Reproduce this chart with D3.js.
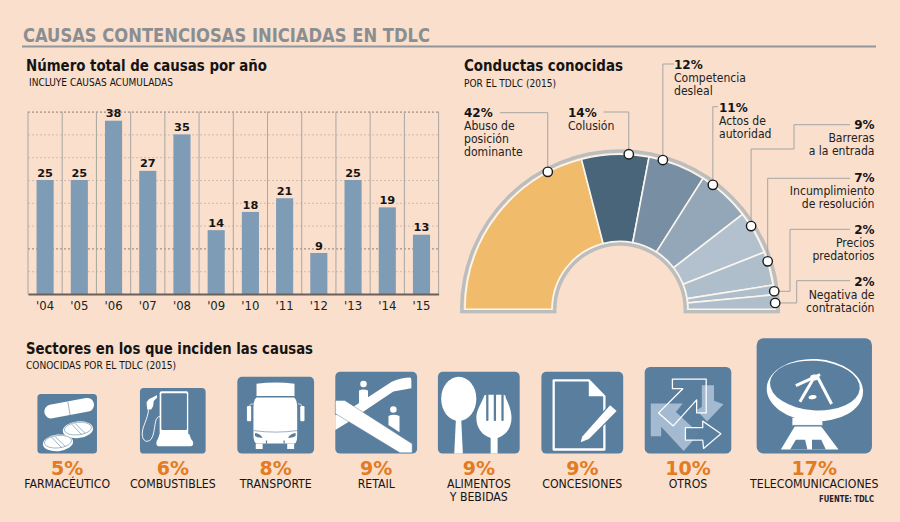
<!DOCTYPE html>
<html><head><meta charset="utf-8">
<script src="https://cdn.jsdelivr.net/npm/d3@7/dist/d3.min.js"></script>
<style>html,body{margin:0;padding:0;background:#f9dfcc;overflow:hidden}svg{display:block}</style>
</head><body><svg id="c" width="900" height="522"></svg>
<script>
// ---------- data ----------
const years = ["'04","'05","'06","'07","'08","'09","'10","'11","'12","'13","'14","'15"];
const causes = [25,25,38,27,35,14,18,21,9,25,19,13];
const gridTicks = [0,5,10,15,20,25,30,35,40];
const conductLabels = [["Abuso de","posición","dominante"],["Colusión"],["Competencia","desleal"],["Actos de","autoridad"],["Barreras","a la entrada"],["Incumplimiento","de resolución"],["Precios","predatorios"],["Negativa de","contratación"]];
const conductPct = [42,14,12,11,9,7,2,2];
const conductDrawn = [42,14,12,11,9,7,2,3];        // slice sizes as read from the arc
const conductMarker = [34.6,51.8,58.9,70.4,82,90,96.3,98.7]; // marker position along the arc, 0-100
const sectorNames = [["FARMACÉUTICO"],["COMBUSTIBLES"],["TRANSPORTE"],["RETAIL"],["ALIMENTOS","Y BEBIDAS"],["CONCESIONES"],["OTROS"],["TELECOMUNICACIONES"]];
const sectorPct = [5,6,8,9,9,9,10,17];

// ---------- layout & style ----------
const svg = d3.select("#c");
const INK="#141414", BG="#f9dfcc", BLUE="#5a7f9e", ORANGE="#e27b22";
const COND="'DejaVu Sans Condensed','Noto Sans',sans-serif", WIDE="'DejaVu Sans',sans-serif";
function T(parent,s,x,y,o={}){
  const t=parent.append("text").attr("x",x).attr("y",y).text(s)
    .attr("font-family",o.f||COND).attr("font-size",o.s||12).attr("font-weight",o.w||"normal")
    .attr("fill",o.c||INK).attr("text-anchor",o.a||"start");
  if(o.l) t.attr("textLength",o.l).attr("lengthAdjust","spacingAndGlyphs");
  return t;
}
svg.append("rect").attr("width",900).attr("height",522).attr("fill",BG);
T(svg,"CAUSAS CONTENCIOSAS INICIADAS EN TDLC",23,41.5,{s:20,w:"bold",c:"#8b8e91",l:407});
svg.append("line").attr("x1",22).attr("x2",876).attr("y1",46.5).attr("y2",46.5).attr("stroke","#92979b").attr("stroke-width",1.8);

// ---------- bars ----------
T(svg,"Número total de causas por año",26,70.5,{s:16,w:"bold",l:241});
T(svg,"INCLUYE CAUSAS ACUMULADAS",29,86,{s:10.5,l:144});
const x=d3.scaleBand().domain(years).range([28,438.6]).padding(0);
const y=d3.scaleLinear().domain([0,40]).range([294,111.6]);
const gridG=svg.append("g").attr("transform","translate(28,0)").call(d3.axisLeft(y).tickValues(gridTicks).tickSize(-410.6).tickFormat(""));
gridG.select(".domain").remove();
gridG.selectAll(".tick line").attr("stroke",d=>(d===10||d===40)?"#8a7f77":"#d0bcae").attr("stroke-dasharray","2,2").attr("stroke-width",1);
svg.append("g").selectAll("line").data(d3.range(years.length+1)).join("line")
  .attr("x1",i=>28+i*x.step()).attr("x2",i=>28+i*x.step()).attr("y1",111.6).attr("y2",294)
  .attr("stroke","#aaa6a2").attr("stroke-width",1);
svg.append("g").selectAll("rect").data(causes).join("rect")
  .attr("x",(d,i)=>x(years[i])+x.bandwidth()/4).attr("width",x.bandwidth()/2)
  .attr("y",d=>y(d)).attr("height",d=>y(0)-y(d)).attr("fill","#7f9cb7");
svg.append("g").selectAll("text").data(causes).join("text")
  .attr("x",(d,i)=>x(years[i])+x.bandwidth()/2).attr("y",d=>y(d)-3.4).text(d=>d)
  .attr("text-anchor","middle").attr("font-family",WIDE).attr("font-weight","bold").attr("font-size",11.3).attr("fill",INK);
const xAxis=svg.append("g").attr("transform","translate(0,294)").call(d3.axisBottom(x).tickSize(0).tickPadding(7));
xAxis.select(".domain").attr("stroke","#6a605a").attr("stroke-width",2);
xAxis.selectAll("text").attr("font-family",COND).attr("font-size",13).attr("fill","#222");

// ---------- semicircle ----------
T(svg,"Conductas conocidas",464,70.5,{s:16,w:"bold",l:159});
T(svg,"POR EL TDLC (2015)",464,86.5,{s:10.5,l:92});
const cx=620, cy=309.3, R0=68, R1=155;
const ring=svg.append("g").attr("transform",`translate(${cx},${cy})`);
const half=Math.PI/2;
const greyArc=d3.arc().startAngle(-half).endAngle(half);
ring.append("path").attr("d",greyArc({innerRadius:156.5,outerRadius:160})).attr("fill","#bcbdbd");
ring.append("path").attr("d",greyArc({innerRadius:63.5,outerRadius:67})).attr("fill","#bcbdbd");
ring.append("rect").attr("x",-160).attr("y",0).attr("width",96.5).attr("height",4).attr("fill","#bcbdbd");
ring.append("rect").attr("x",63.5).attr("y",0).attr("width",96.5).attr("height",4).attr("fill","#bcbdbd");
const pie=d3.pie().sort(null).startAngle(-half).endAngle(half);
const arc=d3.arc().innerRadius(R0).outerRadius(R1);
const sliceCol=["#f0bb6b","#486579","#788ea3","#93a7b9","#b3c1ce","#aebecb","#aebecb","#aebecb"];
ring.selectAll("path.s").data(pie(conductDrawn)).join("path").attr("class","s").attr("d",arc)
  .attr("fill",(d,i)=>sliceCol[i]).attr("stroke","#fbf5ef").attr("stroke-width",1.6);
const ang=d3.scaleLinear().domain([0,100]).range([-half,half]);
const dots=conductMarker.map(m=>[cx+155.3*Math.sin(ang(m)),cy-155.3*Math.cos(ang(m))]);
// leader routes, each ending at the text it serves
const rx=850;
const routes=[
 d=>[d,[d[0],112.7],[500,112.7]],
 d=>[d,[d[0],112],[603.5,112]],
 d=>[d,[d[0],64],[674,64]],
 d=>[d,[d[0],106.7],[718,106.7]],
 d=>[d,[d[0],149],[794,149],[794,124.7],[rx,124.7]],
 d=>[d,[d[0],178.3],[rx,178.3]],
 d=>[d,[790,d[1]],[790,229.3],[rx,229.3]],
 d=>[d,[796.7,d[1]],[796.7,280.7],[rx,280.7]]
];
const ln=d3.line();
svg.append("g").selectAll("path").data(routes).join("path").attr("d",(r,i)=>ln(r(dots[i])))
  .attr("fill","none").attr("stroke","#a5a5a3").attr("stroke-width",1);
svg.append("g").selectAll("circle").data(dots).join("circle").attr("cx",d=>d[0]).attr("cy",d=>d[1]).attr("r",4.7)
  .attr("fill","#fff").attr("stroke","#1a1a1a").attr("stroke-width",1.4);
const labelPos=[[464,116.7,"start"],[568,116.7,"start"],[674,69.3,"start"],[719,112,"start"],[874.5,128.7,"end"],[874.5,181.7,"end"],[874.5,234,"end"],[874.5,285.7,"end"]];
const lg=svg.append("g");
conductPct.forEach((p,i)=>{
  const [lx,ly,a]=labelPos[i];
  T(lg,p+"%",lx,ly,{f:WIDE,w:"bold",s:12,a});
  conductLabels[i].forEach((s,j)=>T(lg,s,lx,ly+13*(j+1),{s:12.1,a,c:"#222"}));
});

// ---------- sector icons ----------
T(svg,"Sectores en los que inciden las causas",26,354,{s:16,w:"bold",l:287});
T(svg,"CONOCIDAS POR EL TDLC (2015)",26,369.3,{s:10.5,l:150});
const side=d3.scalePow().exponent(0.54).domain([0,17]).range([0,115.3]);
const centers=[67.2,172.8,275.7,376.2,478.8,582.3,688,814.3];
const base=453.6;
const W="#fff";
function P(g,d,o={}){return g.append("path").attr("d",d).attr("fill",o.fill===undefined?W:o.fill).attr("stroke",o.stroke||"none").attr("stroke-width",o.sw||0).attr("stroke-linejoin","round").attr("stroke-linecap",o.cap||"butt").attr("opacity",o.op||1);}
function E(g,cx,cy,rx,ry,rot,o={}){return g.append("ellipse").attr("cx",cx).attr("cy",cy).attr("rx",rx).attr("ry",ry).attr("transform",`rotate(${rot} ${cx} ${cy})`).attr("fill",o.fill||W).attr("stroke",o.stroke||"none").attr("stroke-width",o.sw||0);}
const icons=[
 g=>{ // pills
  P(g,"M23 29.4L83.6 18",{fill:"none",stroke:W,sw:23,cap:"round"});
  P(g,"M51 12.5L55.5 39",{fill:"none",stroke:BLUE,sw:1});
  [[68,60],[34.5,82]].forEach(([a,b])=>{
   E(g,a,b,25.5,14,-6);
   E(g,a,b-2,23,10.5,-6,{fill:"none",stroke:BLUE,sw:.9});
   P(g,`M${a-11} ${b-10}L${a+6} ${b+8}M${a-5} ${b-11}L${a+12} ${b+6}`,{fill:"none",stroke:BLUE,sw:1});
  });
 },
 g=>{ // fuel pump
  P(g,"M33 5H71Q73.5 5 73.5 8V78H30V8Q30 5 33 5Z");
  P(g,"M34 8H70Q71.5 8 71.5 10V62Q71.5 64 70 64H34Q32.5 64 32.5 62V10Q32.5 8 34 8Z",{fill:BLUE});
  P(g,"M30 70L27 78Q25 80 25 84Q25 89 29 89H77Q81 89 81 84Q81 80 78 78L75 70Z");
  P(g,"M11 33L10 22L14 17L22 13L26 11V15L21 20L20 28L17 33Z");
  P(g,"M13 33C12 48 3.5 58 3.5 70C3.5 82 12 84 17 78C23 70 22 50 26 46Q28 43 31 44",{fill:"none",stroke:W,sw:1.4});
 },
 g=>{ // bus
  P(g,"M25 9Q50 6 74.5 9V25H25Z");
  P(g,"M25 27H74Q78 30 78 40V75Q78 87 74 87H26Q21 87 21 75V40Q21 30 25 27Z");
  P(g,"M21 70Q50 74 78 70",{fill:"none",stroke:BLUE,sw:.8});
  P(g,"M23 73Q30 74 33 79Q27 80 23 77Z",{fill:BLUE});
  P(g,"M76 73Q69 74 66 79Q72 80 76 77Z",{fill:BLUE});
  P(g,"M38 83v4M61 83v4",{fill:"none",stroke:BLUE,sw:1.6});
  g.append("rect").attr("x",24).attr("y",87).attr("width",9).attr("height",7).attr("fill",W);
  g.append("rect").attr("x",65).attr("y",87).attr("width",9).attr("height",7).attr("fill",W);
  g.append("rect").attr("x",12.5).attr("y",38).attr("width",5.5).attr("height",20).attr("rx",1.5).attr("fill",W);
  g.append("rect").attr("x",82).attr("y",38).attr("width",5.5).attr("height",20).attr("rx",1.5).attr("fill",W);
  P(g,"M16 38Q16 35 21 35M84 38Q84 35 79 35",{fill:"none",stroke:W,sw:.9});
 },
 g=>{ // escalators
  E(g,34.5,15,4,4,0);
  P(g,"M29 23Q34.5 20 40 23V36L29 44Z");
  E(g,71,46,4,4,0);
  P(g,"M65 54Q71 51 78.5 54V74L65 65Z");
  P(g,"M0 53L24 41.6L69 12Q82 7 91 7Q93 7 93 10V20L71 24L40 45L18 60L0 71Z");
  P(g,"M0 35H11.5L94 88V99H79L0 51Z",{stroke:BLUE,sw:.6});
 },
 g=>{ // spoon & fork
  E(g,25.5,33,21.5,27,0);
  P(g,"M22 58L20 100H30.5L28.5 58Z");
  P(g,"M56 31Q56 28 60 28H80Q83 28 83 32C87 40 90 48 90 56C90 70 82 78 73 81V100H64.5V81C55 78 47 70 47 56C47 48 52 40 56 31Z");
  [59,68.3,77.6].forEach(sx=>g.append("rect").attr("x",sx).attr("y",26).attr("width",2.8).attr("height",34).attr("rx",1.2).attr("fill",BLUE));
 },
 g=>{ // document & pencil
  P(g,"M15 10.5H58L77 30V95H15Z",{fill:"none",stroke:W,sw:2.8});
  P(g,"M58 10.5V30H77Z");
  P(g,"M48 86L50 79L84 41L92 48L58 82Z",{stroke:BLUE,sw:3});
  P(g,"M48 86L50 79L84 41L92 48L58 82Z");
 },
 g=>{ // arrows
  const L="#a3bad0";
  P(g,"M66 21H80V39L91 43L72 63L60 50L66 46Z",{fill:L});
  P(g,"M7 42H44L36 52L62 76L62 78L45 97L19 69V80H7Z",{fill:L});
  P(g,"M32 14H71V53H60V38L33 68L16 53L44 25H32Z",{fill:"none",stroke:W,sw:1.5});
  P(g,"M47 70H67V62.5L88 77L68 94L67 84.5H47Z",{fill:BLUE,stroke:W,sw:1.5,op:.95});
 },
 g=>{ // satellite dish
  E(g,50.5,45,41.8,27,3);
  E(g,50.5,41,39,21.5,4,{fill:BLUE});
  P(g,"M34 41L55 31.5",{fill:"none",stroke:W,sw:2.6});
  P(g,"M37.5 55L51 32",{fill:"none",stroke:W,sw:2.6});
  P(g,"M52 32L65 57",{fill:"none",stroke:W,sw:2.6});
  E(g,48.5,51,3.5,1.8,-10);
  E(g,50,34,3.5,2.5,0);
  P(g,"M31 69H57V76H31Z");
  P(g,"M31 75.6H57",{fill:"none",stroke:BLUE,sw:.8});
  P(g,"M21 96.5L33 76.5H56L71 96.5Z");
  P(g,"M29 96.5L34 88H42L44 96.5Z",{fill:BLUE});
  P(g,"M48 96.5V88H56L60 96.5Z",{fill:BLUE});
 }
];
sectorPct.forEach((v,i)=>{
  const s=side(v), g=svg.append("g").attr("transform",`translate(${centers[i]-s/2},${base-s}) scale(${s/100})`);
  g.append("rect").attr("width",100).attr("height",100).attr("rx",6).attr("fill",BLUE);
  icons[i](g);
  T(svg,v+"%",centers[i],474.8,{f:WIDE,w:"bold",s:19,c:ORANGE,a:"middle"});
  sectorNames[i].forEach((n,j)=>T(svg,n,centers[i],487.5+13.2*j,{s:12.2,a:"middle"}));
});
T(svg,"FUENTE: TDLC",874,501.5,{s:9,w:"bold",a:"end",l:55,c:"#222"});
</script></body></html>
